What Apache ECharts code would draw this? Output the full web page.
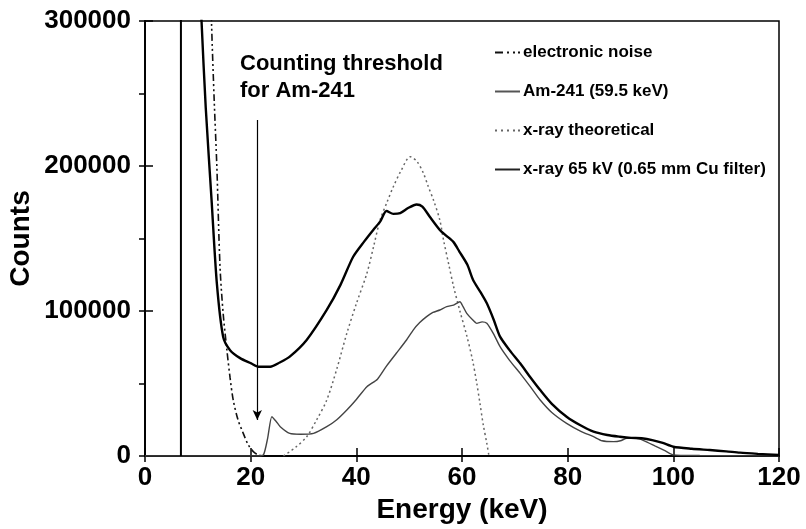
<!DOCTYPE html>
<html>
<head>
<meta charset="utf-8">
<script src="https://cdn.jsdelivr.net/npm/echarts@6/dist/echarts.min.js"></script>
<style>html,body{margin:0;padding:0;background:#fff;}#chart{width:806px;height:529px;}</style>
</head>
<body>
<div id="chart"></div>
<script>
// ---- data ----
const xTicks = [0, 20, 40, 60, 80, 100, 120];
const yTicks = [0, 100000, 200000, 300000];

const seriesNames = ['electronic noise', 'Am-241 (59.5 keV)', 'x-ray theoretical', 'x-ray 65 kV (0.65 mm Cu filter)'];

const noiseE = [12.2, 12.6, 13.1, 13.6, 14.2, 14.8, 15.5, 16.1, 16.7, 17.6, 18.6, 19.5, 20.5, 21.4, 22.4];
const noiseC = [360000, 298000, 245000, 199500, 130500, 98000, 73100, 54000, 38600, 25000, 15600, 8000, 3000, 800, 0];

const amE = [0, 21.0, 22.4, 23.2, 24.0, 24.8, 25.6, 27.4, 29.5, 31.9, 34.4, 36.3, 38.2, 40.0, 42.0, 44.0, 45.7, 47.6, 49.5, 50.8, 52.0, 53.3, 54.5, 55.8, 57.1, 58.4, 59.6, 60.2, 60.9, 62.0, 62.8, 63.8, 64.7, 66.0, 67.2, 69.0, 71.0, 73.0, 74.8, 77.0, 79.8, 82.5, 84.9, 86.5, 88.7, 90.0, 91.2, 93.0, 94.5, 96.5, 98.5, 100.0, 105.0, 110.0, 120.0];
const amC = [0, 0, 700, 12000, 27100, 24000, 20200, 15600, 15000, 15600, 20200, 25000, 31700, 39000, 47800, 53000, 62000, 71000, 80000, 87000, 92000, 96100, 99000, 100700, 103000, 104100, 106400, 103000, 98400, 94000, 91500, 92500, 91500, 84000, 75400, 66000, 57000, 47500, 38600, 30000, 22500, 17000, 13300, 10500, 9900, 10500, 12200, 12200, 10500, 7000, 3500, 800, 300, 200, 0];

const theoE = [26.2, 28.5, 30.6, 32.5, 34.4, 36.3, 38.2, 40.0, 42.0, 43.3, 44.5, 45.8, 47.0, 48.5, 50.2, 51.5, 52.7, 53.6, 54.6, 55.8, 56.5, 57.5, 58.4, 59.6, 60.9, 62.0, 62.8, 63.4, 64.0, 64.7, 65.1];
const theoC = [0, 6000, 13300, 25000, 38600, 60000, 84600, 105000, 126000, 145000, 162800, 175000, 185700, 197000, 206400, 203000, 195000, 186000, 176500, 162800, 149000, 132000, 117000, 100000, 83000, 66000, 50100, 36300, 22000, 8700, 0];

const xrayE = [9.8, 10.7, 11.5, 12.6, 13.6, 14.8, 16.1, 18.0, 20.0, 21.5, 23.7, 25.5, 27.4, 30.6, 34.4, 37.0, 39.4, 41.5, 43.2, 44.5, 45.7, 47.0, 48.3, 49.8, 51.4, 52.5, 53.9, 55.8, 57.0, 58.4, 59.5, 61.0, 62.1, 63.5, 64.7, 66.0, 67.2, 69.0, 71.0, 73.0, 74.8, 77.0, 79.8, 82.5, 84.9, 87.5, 89.9, 92.0, 94.0, 96.0, 98.0, 100.0, 103.5, 106.9, 110.0, 112.6, 116.0, 120.0];
const xrayC = [380000, 300000, 240000, 176500, 119000, 82000, 73000, 67500, 64000, 61600, 61600, 64500, 68500, 80000, 100700, 118000, 137400, 148000, 155900, 161600, 169000, 167000, 167500, 171000, 173500, 172000, 165000, 155900, 152000, 147500, 141000, 132000, 121400, 113000, 105300, 94000, 82300, 73000, 63900, 54000, 45500, 36000, 27100, 21000, 16800, 14500, 13300, 12500, 12200, 11000, 9000, 6400, 5000, 4100, 3200, 2300, 1500, 700];

// vertical spike near 6.8 keV (off-scale)
const spikeE = [6.8, 6.8];
const spikeC = [0, 400000];

// threshold arrow (energy, counts from/to)
const arrowE = 21.25;
const arrowFrom = 231700;
const arrowTo = 24800;

const annotation = 'Counting threshold\nfor Am-241';

// ---- build ----
const pairs = (xs, ys) => xs.map((x, i) => [x, ys[i]]);
const FONT = 'Liberation Sans, Arial, Helvetica, sans-serif';

const legendIcons = [
  'path://M0,0h8v2h-8z M12,0h2v2h-2z M18,0h2v2h-2z M23,0h2v2h-2z',
  'path://M0,0h25v2h-25z',
  'path://M0,0h2v2h-2z M6,0h2v2h-2z M12,0h2v2h-2z M18,0h2v2h-2z M23,0h2v2h-2z',
  'path://M0,0h25v2h-25z'
];

const chart = echarts.init(document.getElementById('chart'), null, {renderer: 'canvas'});
chart.setOption({
  animation: false,
  backgroundColor: '#fff',
  grid: {left: 145, right: 27, top: 21, bottom: 73, show: true, borderColor: '#000', borderWidth: 1.5,
         backgroundColor: 'transparent', containLabel: false, outerBoundsMode: 'none'},
  legend: {
    data: seriesNames.map((n, i) => ({name: n, icon: legendIcons[i]})),
    orient: 'vertical',
    left: 490, top: 39,
    itemWidth: 25, itemHeight: 2, itemGap: 22,
    textStyle: {fontFamily: FONT, fontWeight: 'bold', fontSize: 17, color: '#000', padding: [0, 0, 0, -2]}
  },
  xAxis: [{
    type: 'value', min: xTicks[0], max: xTicks[xTicks.length - 1], interval: 20,
    name: 'Energy (keV)', nameLocation: 'middle', nameGap: 40,
    nameTextStyle: {fontFamily: FONT, fontWeight: 'bold', fontSize: 28, color: '#000'},
    axisLine: {lineStyle: {color: '#000', width: 1.5}},
    axisTick: {inside: true, length: 8, lineStyle: {color: '#000', width: 1.5}},
    axisLabel: {fontFamily: FONT, fontWeight: 'bold', fontSize: 26, color: '#000', margin: 9},
    splitLine: {show: false}
  }, {
    type: 'value', position: 'top', min: 0, max: 120, interval: 20,
    axisLine: {show: true, lineStyle: {color: '#000', width: 1.5}},
    axisTick: {inside: true, length: 6, lineStyle: {color: '#000', width: 1.5}},
    axisLabel: {show: false}, splitLine: {show: false}
  }],
  yAxis: [{
    type: 'value', min: yTicks[0], max: yTicks[yTicks.length - 1], interval: 100000,
    name: 'Counts', nameLocation: 'middle', nameGap: 110, nameMoveOverlap: false,
    nameTextStyle: {fontFamily: FONT, fontWeight: 'bold', fontSize: 28, color: '#000'},
    axisLine: {show: true, lineStyle: {color: '#000', width: 1.5}},
    axisTick: {show: true, inside: true, length: 8, lineStyle: {color: '#000', width: 1.5}},
    axisLabel: {fontFamily: FONT, fontWeight: 'bold', fontSize: 26, color: '#000', margin: 14,
                formatter: v => String(v)},
    splitLine: {show: false}
  }, {
    type: 'value', position: 'right', min: 0, max: 300000, interval: 50000,
    axisLine: {show: true, lineStyle: {color: '#000', width: 1.5}},
    axisTick: {show: true, inside: true, length: 6, lineStyle: {color: '#000', width: 1.5}},
    axisLabel: {show: false}, splitLine: {show: false}
  }],
  graphic: [{
    type: 'text', left: 240, top: 50, z: 100,
    style: {text: annotation, fontFamily: FONT, fontWeight: 'bold', fontSize: 22, lineHeight: 27, fill: '#000'}
  }],
  series: [
    {
      name: seriesNames[0], type: 'line', showSymbol: false, symbol: 'none', smooth: 0.3, clip: true,
      data: pairs(noiseE, noiseC),
      lineStyle: {color: '#111', width: 1.6, type: [7, 3, 2, 3, 2, 3]},
      itemStyle: {color: '#111'}, z: 3
    },
    {
      name: seriesNames[1], type: 'line', showSymbol: false, symbol: 'none', smooth: 0.2, clip: true,
      data: pairs(amE, amC),
      lineStyle: {color: '#444', width: 1.4},
      itemStyle: {color: '#555'}, z: 4,
      markLine: {
        silent: true, symbol: ['none', 'arrow'], symbolSize: [7, 10],
        label: {show: false},
        lineStyle: {color: '#000', width: 1.2, type: 'solid'},
        data: [[{coord: [arrowE, arrowFrom]}, {coord: [arrowE, arrowTo]}]]
      }
    },
    {
      name: seriesNames[2], type: 'line', showSymbol: false, symbol: 'none', smooth: 0.3, clip: true,
      data: pairs(theoE, theoC),
      lineStyle: {color: '#666', width: 1.5, type: [2, 3]},
      itemStyle: {color: '#666'}, z: 2
    },
    {
      name: seriesNames[3], type: 'line', showSymbol: false, symbol: 'none', smooth: 0.25, clip: true,
      data: pairs(xrayE, xrayC),
      lineStyle: {color: '#000', width: 2.4},
      itemStyle: {color: '#222'}, z: 5
    },
    {
      name: 'spike', type: 'line', showSymbol: false, symbol: 'none', clip: true,
      data: pairs(spikeE, spikeC),
      lineStyle: {color: '#000', width: 2}, z: 5
    }
  ]
});
</script>
</body>
</html>
